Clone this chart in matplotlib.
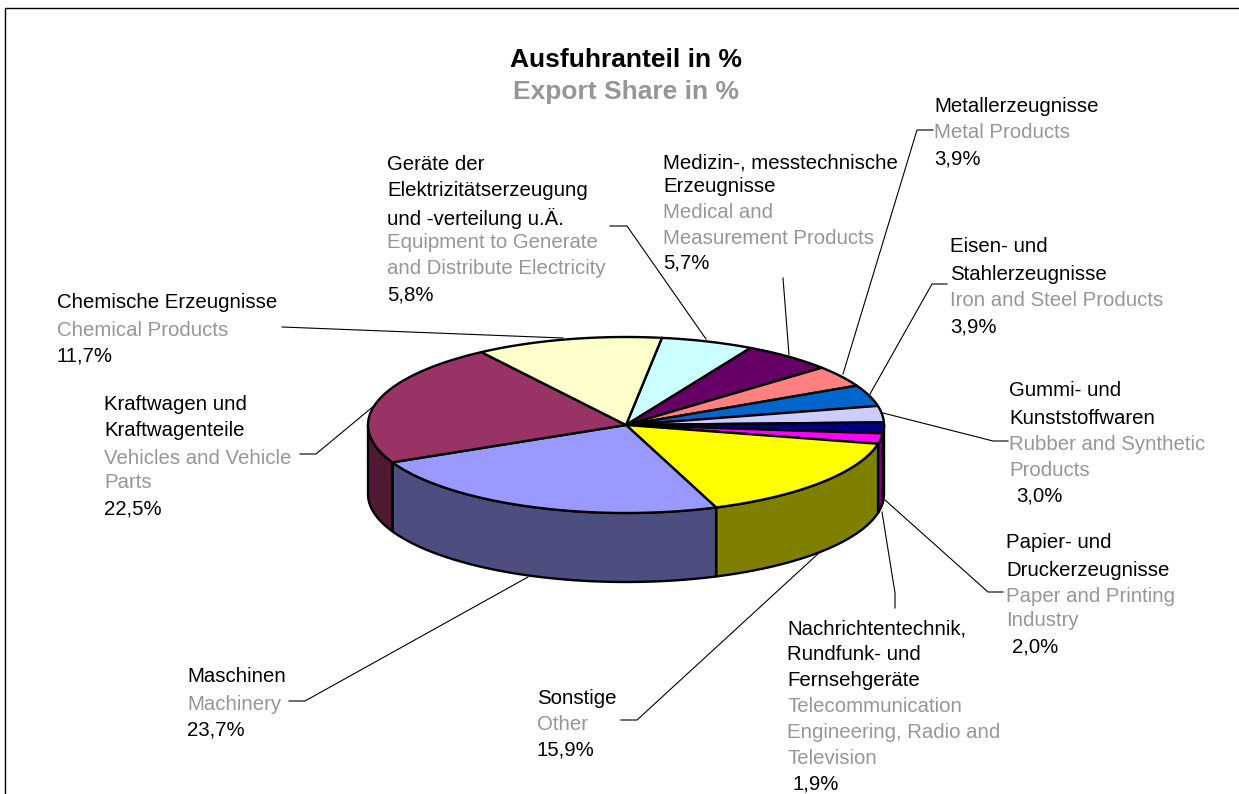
import numpy as np
import matplotlib
matplotlib.use('Agg')
import matplotlib.pyplot as plt
from matplotlib.patches import Polygon

plt.rcParams['font.family'] = ['Liberation Sans', 'DejaVu Sans']

# clockwise, starting from the top-left edge of the "Geraete" slice
names = ['Elektrizitaet', 'Medizin', 'Metall', 'Eisen', 'Gummi', 'Papier',
         'Nachrichten', 'Sonstige', 'Maschinen', 'Kraftwagen', 'Chemie']
shares = [5.8, 5.7, 3.9, 3.9, 3.0, 2.0, 1.9, 15.9, 23.7, 22.5, 11.7]
top_colors = ['#CCFFFF', '#660066', '#FF8080', '#0066CC', '#CCCCFF', '#000080',
              '#FF00FF', '#FFFF00', '#9999FF', '#993366', '#FFFFCC']
side_colors = ['#667F7F', '#330033', '#804040', '#003366', '#666680', '#000040',
               '#800080', '#808000', '#4D4D80', '#4D1933', '#808066']

GREY = '#969696'
# (x, y, text, colour) - y is the middle of the line in pixels
labels = [
    (934, 105, 'Metallerzeugnisse', 'k'), (934, 130, 'Metal Products', GREY), (934, 157, '3,9%', 'k'),
    (663, 161, 'Medizin-, messtechnische', 'k'), (663, 185, 'Erzeugnisse', 'k'),
    (663, 210, 'Medical and', GREY), (663, 237, 'Measurement Products', GREY), (663, 261, '5,7%', 'k'),
    (387, 162, 'Geräte der', 'k'), (387, 189, 'Elektrizitätserzeugung', 'k'),
    (387, 216, 'und -verteilung u.Ä.', 'k'), (387, 240, 'Equipment to Generate', GREY),
    (387, 266, 'and Distribute Electricity', GREY), (387, 293, '5,8%', 'k'),
    (57, 301, 'Chemische Erzeugnisse', 'k'), (57, 328, 'Chemical Products', GREY), (57, 354, '11,7%', 'k'),
    (104, 402, 'Kraftwagen und', 'k'), (104, 429, 'Kraftwagenteile', 'k'),
    (104, 456, 'Vehicles and Vehicle', GREY), (104, 481, 'Parts', GREY), (104, 507, '22,5%', 'k'),
    (950, 245, 'Eisen- und', 'k'), (950, 272, 'Stahlerzeugnisse', 'k'),
    (950, 298, 'Iron and Steel Products', GREY), (950, 325, '3,9%', 'k'),
    (1009, 389, 'Gummi- und', 'k'), (1009, 416, 'Kunststoffwaren', 'k'),
    (1009, 443, 'Rubber and Synthetic', GREY), (1009, 469, 'Products', GREY), (1016, 494, '3,0%', 'k'),
    (1006, 541, 'Papier- und', 'k'), (1006, 568, 'Druckerzeugnisse', 'k'),
    (1006, 595, 'Paper and Printing', GREY), (1006, 619, 'Industry', GREY), (1012, 645, '2,0%', 'k'),
    (787, 627, 'Nachrichtentechnik,', 'k'), (787, 652, 'Rundfunk- und', 'k'), (787, 679, 'Fernsehgeräte', 'k'),
    (787, 704, 'Telecommunication', GREY), (787, 731, 'Engineering, Radio and', GREY),
    (787, 757, 'Television', GREY), (793, 782, '1,9%', 'k'),
    (537, 696, 'Sonstige', 'k'), (537, 723, 'Other', GREY), (537, 748, '15,9%', 'k'),
    (187, 675, 'Maschinen', 'k'), (187, 702, 'Machinery', GREY), (187, 728, '23,7%', 'k'),
]

leaders = [
    [(282, 327), (563, 338)],
    [(610, 226), (627, 226), (706, 339)],
    [(783, 278), (789, 355)],
    [(933, 130), (917, 130), (843, 374)],
    [(947, 284), (932, 284), (870, 394)],
    [(1008, 441), (993, 441), (883, 413)],
    [(1003, 592), (988, 592), (885, 500)],
    [(895, 608), (895, 593), (882, 512)],
    [(621, 720), (637, 720), (820, 552)],
    [(289, 701), (305, 701), (528, 577)],
    [(300, 454), (316, 454), (375, 405)],
]

W, H = 1239, 794
cx, cy, rx, ry, depth = 626, 425, 258, 88, 69
start = 82.0

fig = plt.figure(figsize=(W / 100, H / 100), dpi=100)
ax = fig.add_axes([0, 0, 1, 1])
ax.set_xlim(0, W)
ax.set_ylim(H, 0)
ax.axis('off')

ax.plot([5, 5, W], [H, 8, 8], color='k', lw=1.0, zorder=1)

for pts in leaders:
    xs, ys = zip(*pts)
    ax.plot(xs, ys, color='k', lw=0.8, zorder=2)

# slice edges in degrees on the ellipse, going clockwise
edges = start - np.concatenate([[0], np.cumsum(shares)]) * 360 / np.sum(shares)


def ell(t):
    t = np.radians(t)
    return cx + rx * np.cos(t), cy - ry * np.sin(t)


# outer walls, only the front part (180..360 deg) shows
for i in range(len(shares)):
    a, b = edges[i] % 360, edges[i + 1] % 360
    if b > a:
        a += 360
    lo, hi = max(b, 180), min(a, 360)
    if lo >= hi:
        continue
    t = np.linspace(hi, lo, 60)
    x, y = ell(t)
    xy = np.r_[np.c_[x, y], np.c_[x[::-1], y[::-1] + depth]]
    ax.add_patch(Polygon(xy, closed=True, fc=side_colors[i], ec='k', lw=1.7, zorder=3, joinstyle='round'))

# top face
for i in range(len(shares)):
    t = np.linspace(edges[i], edges[i + 1], 60)
    x, y = ell(t)
    xy = np.r_[[[cx, cy]], np.c_[x, y]]
    ax.add_patch(Polygon(xy, closed=True, fc=top_colors[i], ec='k', lw=1.7, zorder=4, joinstyle='round'))

ax.text(626, 60, 'Ausfuhranteil in %', ha='center', va='center', fontsize=19, fontweight='bold', color='k')
ax.text(626, 92, 'Export Share in %', ha='center', va='center', fontsize=19, fontweight='bold', color=GREY)

for x, y, s, c in labels:
    ax.text(x, y, s, ha='left', va='center_baseline', fontsize=14.7, color=c, zorder=5)

fig.savefig('out.png', dpi=100)
